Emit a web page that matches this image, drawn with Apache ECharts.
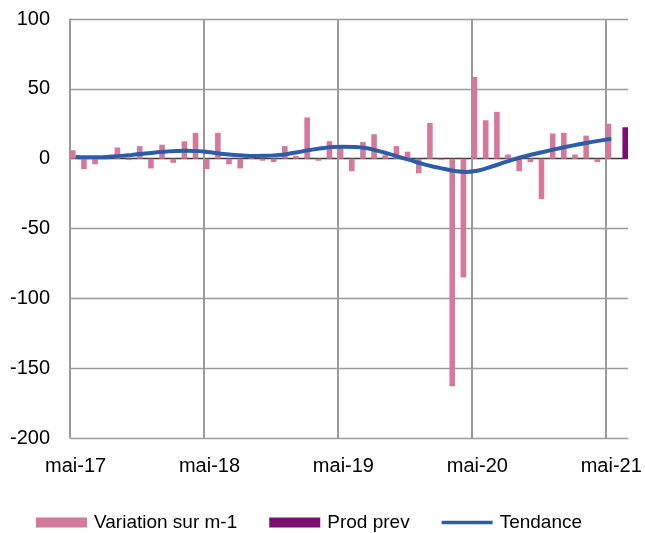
<!DOCTYPE html>
<html>
<head>
<meta charset="utf-8">
<script src="https://cdn.jsdelivr.net/npm/echarts@6/dist/echarts.min.js"></script>
<style>
  html, body { margin: 0; padding: 0; background: #fff; }
  #chart { width: 645px; height: 533px; }
</style>
</head>
<body>
<div id="chart"></div>
<script>
// mois (mai-17 -> juin-21)
const categories = [
  'mai-17', 'juin-17', 'juil-17', 'août-17', 'sept-17', 'oct-17', 'nov-17', 'déc-17', 'janv-18', 'févr-18', 'mars-18', 'avr-18',
  'mai-18', 'juin-18', 'juil-18', 'août-18', 'sept-18', 'oct-18', 'nov-18', 'déc-18', 'janv-19', 'févr-19', 'mars-19', 'avr-19',
  'mai-19', 'juin-19', 'juil-19', 'août-19', 'sept-19', 'oct-19', 'nov-19', 'déc-19', 'janv-20', 'févr-20', 'mars-20', 'avr-20',
  'mai-20', 'juin-20', 'juil-20', 'août-20', 'sept-20', 'oct-20', 'nov-20', 'déc-20', 'janv-21', 'févr-21', 'mars-21', 'avr-21',
  'mai-21', 'juin-21'
];

const variation = [
  6, -7.5, -4, -0.5, 8, -1, 9, -7, 10, -3, 12.5, 18.5,
  -7.5, 18.5, -4, -7, 0.5, -1.5, -2.5, 9, 2, 29.5, -1.5, 12.5,
  7.5, -9, 12, 17.5, 2.5, 9, 5, -10.5, 25.5, -1, -163, -85,
  58.5, 27.5, 33.5, 3, -9, -2.5, -29, 18, 18.5, 3, 16.5, -2.5,
  25, null
];

const prodPrev = [
  null, null, null, null, null, null, null, null, null, null, null, null,
  null, null, null, null, null, null, null, null, null, null, null, null,
  null, null, null, null, null, null, null, null, null, null, null, null,
  null, null, null, null, null, null, null, null, null, null, null, null,
  null, 22.5
];

const tendance = [
  1.2, 1.0, 1.0, 1.3, 2.0, 2.7, 3.5, 4.3, 5.0, 5.5, 5.6, 5.4,
  4.6, 3.6, 2.8, 2.2, 1.9, 2.0, 2.5, 3.4, 4.8, 6.2, 7.4, 8.3,
  8.6, 8.4, 7.6, 5.8, 3.6, 1.2, -1.1, -3.5, -5.6, -7.2, -8.8, -9.5,
  -8.6, -6.4, -3.8, -1.2, 1.2, 3.2, 5.0, 6.8, 8.5, 10.1, 11.6, 12.9,
  14.2, null
];

const yTicks = { min: -200, max: 100, interval: 50 };

const font = 'Arial, "Liberation Sans", sans-serif';
const gridGray = '#9a9a9a';

const chart = echarts.init(document.getElementById('chart'), null, { renderer: 'canvas' });

chart.setOption({
  animation: false,
  backgroundColor: '#fff',
  grid: { left: 70, right: 17, top: 19, bottom: 95, containLabel: false },
  legend: {
    left: 36,
    top: 513,
    padding: 0,
    itemWidth: 51,
    itemHeight: 10,
    itemGap: 32,
    textStyle: { fontFamily: font, fontSize: 19, color: '#000', padding: [0, 0, 0, 2] },
    data: [
      { name: 'Variation sur m-1', icon: 'rect' },
      { name: 'Prod prev', icon: 'rect' },
      // trait seul, sans symbole
      { name: 'Tendance', icon: 'path://M0,0 L51,0 L51,3.5 L0,3.5 Z' }
    ]
  },
  xAxis: {
    type: 'category',
    data: categories,
    boundaryGap: true,
    axisLine: { onZero: false, lineStyle: { color: gridGray, width: 1 } },
    axisTick: { show: false },
    axisLabel: {
      interval: (i) => i % 12 === 0,
      margin: 18,
      fontFamily: font,
      fontSize: 20,
      color: '#000'
    },
    splitLine: {
      show: true,
      interval: (i) => i % 12 === 0,
      // pas de trait sur le bord droit
      lineStyle: { color: [gridGray, gridGray, gridGray, gridGray, gridGray, 'rgba(0,0,0,0)'], width: 2 }
    }
  },
  yAxis: {
    type: 'value',
    min: yTicks.min,
    max: yTicks.max,
    interval: yTicks.interval,
    axisLine: { show: true, lineStyle: { color: gridGray, width: 1 } },
    axisTick: { show: false },
    axisLabel: { margin: 20, fontFamily: font, fontSize: 20, color: '#000' },
    splitLine: {
      show: true,
      lineStyle: {
        color: [gridGray, gridGray, gridGray, gridGray, '#3a3a3a', gridGray, gridGray],
        width: 1.3
      }
    }
  },
  series: [
    {
      name: 'Variation sur m-1',
      type: 'bar',
      data: variation,
      barGap: '0%',
      barCategoryGap: '0%',
      itemStyle: { color: '#d5789b' },
      z: 2
    },
    {
      name: 'Prod prev',
      type: 'bar',
      data: prodPrev,
      barGap: '0%',
      barCategoryGap: '0%',
      itemStyle: { color: '#7b0f6f' },
      z: 2
    },
    {
      name: 'Tendance',
      type: 'line',
      data: tendance,
      smooth: true,
      symbol: 'none',
      connectNulls: false,
      lineStyle: { color: '#2d5ca8', width: 4 },
      itemStyle: { color: '#2d5ca8' },
      z: 3
    }
  ]
});
</script>
</body>
</html>
